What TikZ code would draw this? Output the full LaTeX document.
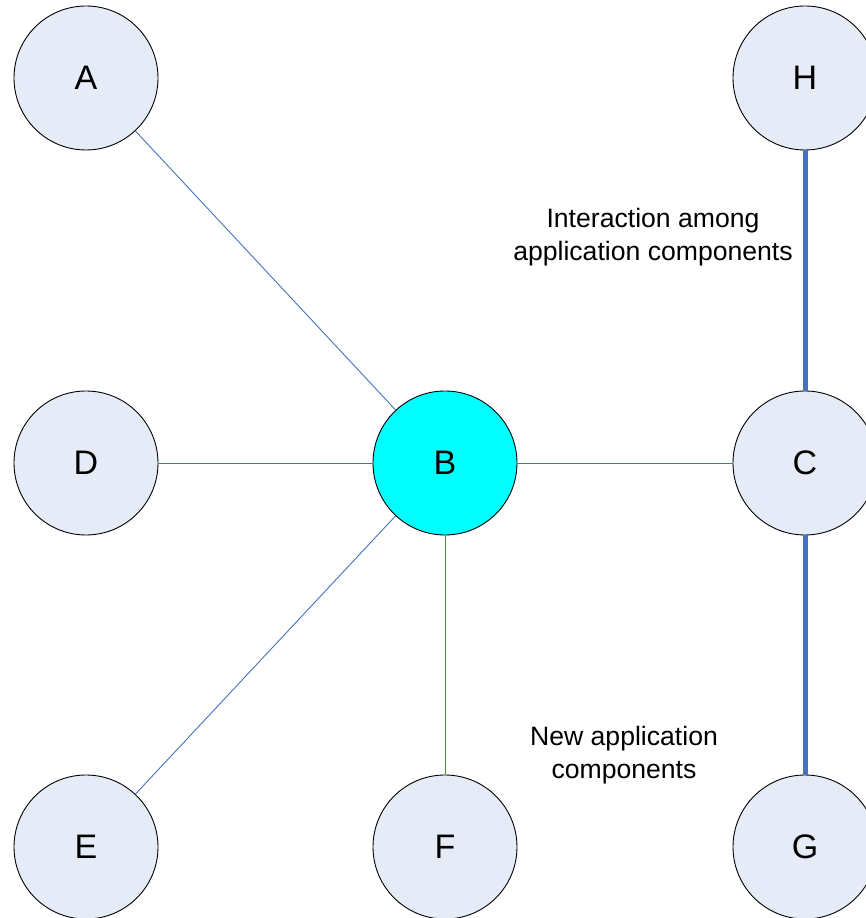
\documentclass[tikz,border=0pt]{standalone}
\usepackage{fontspec}
\setmainfont{Liberation Sans}
\begin{document}
\begin{tikzpicture}[x=1pt,y=1pt,
  comp/.style={circle,draw=black,line width=0.9pt,fill=compfill,minimum size=144pt,inner sep=0pt,font=\fontsize{34}{40}\selectfont},
  hub/.style={comp,fill=hubcyan},
  link/.style={draw=linkblue,line width=0.9pt},
  tie/.style={draw=linkblue,line width=5pt},
  note/.style={align=center,font=\fontsize{26.6}{33}\selectfont}]
\definecolor{compfill}{RGB}{230,236,247}
\definecolor{hubcyan}{RGB}{0,255,255}
\definecolor{linkblue}{RGB}{70,114,190}
\useasboundingbox (0,0) rectangle (866,918);
% application components
\node[comp] (A) at (86,840) {A};
\node[comp] (H) at (805,840) {H};
\node[comp] (D) at (86,455) {D};
\node[hub]  (B) at (445,455) {B};
\node[comp] (C) at (805,455) {C};
\node[comp] (E) at (86,71) {E};
\node[comp] (F) at (445,71) {F};
\node[comp] (G) at (805,71) {G};
% links from the hub
\draw[link] (A) -- (B);
\draw[link] (D) -- (B);
\draw[link] (B) -- (C);
\draw[link] (B) -- (E);
\draw[link] (B) -- (F);
% interactions among new components
\draw[tie] (H) -- (C);
\draw[tie] (C) -- (G);
% captions
\node[note] (n1) at (653,681) {Interaction among\\application components};
\node[note] (n2) at (624,163) {New application\\components};
\end{tikzpicture}
\end{document}
